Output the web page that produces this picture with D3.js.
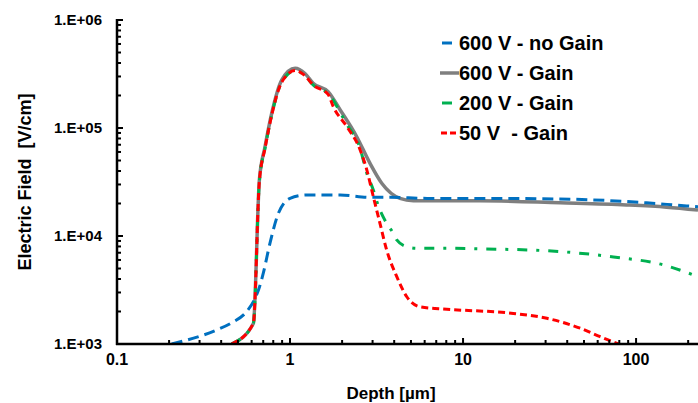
<!DOCTYPE html>
<html>
<head>
<meta charset="utf-8">
<script src="https://cdn.jsdelivr.net/npm/d3@7"></script>
<style>
  body { margin: 0; background: #fff; }
  svg { display: block; font-family: "Liberation Sans", Arial, sans-serif; font-weight: bold; }
</style>
</head>
<body>
<div id="chart"></div>
<script>
// Depth [µm] and field [V/cm]
const depthNoGain600 = [0.207, 0.377, 0.46, 0.562, 0.628, 0.657, 0.70, 0.766, 0.856, 0.93, 1.0, 1.25, 1.95, 2.9, 3.8, 6.2, 12.5, 41.5, 115, 196, 228];
const fieldNoGain600 = [1000, 1350, 1570, 2000, 2650, 3160, 4500, 8600, 16200, 20500, 22300, 24000, 24000, 22800, 22800, 22300, 22300, 21900, 20300, 19000, 18700];

const depthGain600 = [0.46, 0.614, 0.665, 0.717, 0.784, 0.895, 1.07, 1.22, 1.36, 1.66, 1.95, 2.43, 2.9, 3.39, 4.32, 5.16, 12.5, 36.4, 88, 150, 228];
const fieldGain600 = [1000, 1550, 33000, 67000, 137000, 278000, 357000, 320000, 260000, 217000, 147000, 83000, 47000, 30800, 22300, 21200, 21200, 20300, 19400, 18500, 17400];

const depthGain200 = [0.46, 0.614, 0.665, 0.717, 0.784, 0.895, 1.07, 1.22, 1.36, 1.66, 2.13, 2.54, 2.78, 3.03, 3.25, 3.62, 3.95, 4.14, 4.73, 5.4, 8.05, 12.5, 30.5, 74, 144, 228];
const fieldGain200 = [1000, 1550, 32000, 65000, 132000, 265000, 340000, 305000, 250000, 208000, 108000, 65000, 38000, 26700, 18700, 13100, 10600, 9200, 7960, 7700, 7700, 7600, 7300, 6400, 5400, 4200];

const depthGain50 = [0.46, 0.614, 0.665, 0.717, 0.784, 0.895, 1.07, 1.22, 1.36, 1.66, 1.78, 2.13, 2.54, 2.78, 3.03, 3.31, 3.62, 4.14, 4.73, 5.64, 8.05, 19.5, 30.5, 47.5, 62, 79];
const fieldGain50 = [1000, 1550, 32000, 65000, 132000, 265000, 340000, 305000, 250000, 205000, 157000, 103000, 63000, 40800, 23100, 13100, 7400, 4200, 2740, 2210, 2100, 1920, 1730, 1400, 1170, 1000];

const seriesNames = ['600 V - no Gain', '600 V - Gain', '200 V - Gain', '50 V  - Gain'];
const xTickValues = [0.1, 1, 10, 100];
const xTickLabels = ['0.1', '1', '10', '100'];
const yTickValues = [1e3, 1e4, 1e5, 1e6];
const yTickLabels = ['1.E+03', '1.E+04', '1.E+05', '1.E+06'];

const config = {
  width: 698, height: 403,
  margin: {top: 20, right: 0, bottom: 59, left: 117},
  xMax: 228
};

const series = [
  {name: seriesNames[1], x: depthGain600, y: fieldGain600, color: '#7f7f7f', width: 3.5, dash: null, legendDash: null},
  {name: seriesNames[0], x: depthNoGain600, y: fieldNoGain600, color: '#0070c0', width: 3, dash: '11,6', legendDash: null},
  {name: seriesNames[2], x: depthGain200, y: fieldGain200, color: '#00b050', width: 3, dash: '10,9,3,9', legendDash: null},
  {name: seriesNames[3], x: depthGain50, y: fieldGain50, color: '#ff0000', width: 3, dash: '7,4', legendDash: '6,3'}
];

const svg = d3.select('#chart').append('svg')
    .attr('width', config.width)
    .attr('height', config.height);

const innerW = config.width - config.margin.left - config.margin.right;
const innerH = config.height - config.margin.top - config.margin.bottom;

const x = d3.scaleLog()
    .domain([0.1, config.xMax])
    .range([config.margin.left, config.margin.left + innerW]);

const y = d3.scaleLog()
    .domain([1e3, 1e6])
    .range([config.margin.top + innerH, config.margin.top]);

svg.append('defs').append('clipPath').attr('id', 'plot-clip')
  .append('rect')
    .attr('x', config.margin.left)
    .attr('y', config.margin.top - 2)
    .attr('width', innerW)
    .attr('height', innerH + 2);

// minor/major ticks on a log axis
const xMinor = [];
for (let e = -1; e <= 2; e++) {
  for (let m = 1; m <= 9; m++) {
    const v = m * Math.pow(10, e);
    if (v >= 0.1 && v <= config.xMax) xMinor.push(v);
  }
}
const yMinor = [];
for (let e = 3; e <= 6; e++) {
  for (let m = 1; m <= 9; m++) {
    const v = m * Math.pow(10, e);
    if (v <= 1e6) yMinor.push(v);
  }
}

// Lines
const line = d3.line()
    .x(d => x(d[0]))
    .y(d => y(d[1]))
    .curve(d3.curveMonotoneX);

const plot = svg.append('g').attr('clip-path', 'url(#plot-clip)');
series.forEach(s => {
  plot.append('path')
      .datum(s.x.map((v, i) => [v, s.y[i]]))
      .attr('fill', 'none')
      .attr('stroke', s.color)
      .attr('stroke-width', s.width)
      .attr('stroke-dasharray', s.dash)
      .attr('stroke-linejoin', 'round')
      .attr('d', line);
});

// Axes
const yBase = y(1e3);
const xAxisG = svg.append('g').attr('transform', `translate(0,${yBase})`);
xAxisG.selectAll('line.minor').data(xMinor).enter().append('line')
    .attr('x1', d => x(d)).attr('x2', d => x(d))
    .attr('y1', 0)
    .attr('y2', d => xTickValues.includes(d) ? -6 : -4)
    .attr('stroke', '#000').attr('stroke-width', 2);
xAxisG.append('line')
    .attr('x1', x(0.1) - 1).attr('x2', config.width)
    .attr('y1', 0).attr('y2', 0)
    .attr('stroke', '#000').attr('stroke-width', 2.5);
xAxisG.selectAll('text').data(xTickValues).enter().append('text')
    .attr('x', d => x(d))
    .attr('y', 21)
    .attr('text-anchor', 'middle')
    .attr('font-size', 16)
    .attr('fill', '#000')
    .text((d, i) => xTickLabels[i]);

const yAxisG = svg.append('g').attr('transform', `translate(${x(0.1)},0)`);
yAxisG.selectAll('line.minor').data(yMinor).enter().append('line')
    .attr('y1', d => y(d)).attr('y2', d => y(d))
    .attr('x1', 0)
    .attr('x2', d => yTickValues.includes(d) ? 6 : 4)
    .attr('stroke', '#000').attr('stroke-width', 2);
yAxisG.append('line')
    .attr('x1', 0).attr('x2', 0)
    .attr('y1', y(1e6) - 1).attr('y2', yBase + 1)
    .attr('stroke', '#000').attr('stroke-width', 2.5);
yAxisG.selectAll('text').data(yTickValues).enter().append('text')
    .attr('x', -15)
    .attr('y', d => y(d))
    .attr('dy', '0.35em')
    .attr('text-anchor', 'end')
    .attr('font-size', 15)
    .attr('fill', '#000')
    .text((d, i) => yTickLabels[i]);

// Axis titles
svg.append('text')
    .attr('x', 391)
    .attr('y', 399)
    .attr('text-anchor', 'middle')
    .attr('font-size', 17)
    .text('Depth [µm]');

svg.append('text')
    .attr('transform', `translate(31,${(y(1e6) + yBase) / 2}) rotate(-90)`)
    .attr('text-anchor', 'middle')
    .attr('font-size', 18)
    .attr('xml:space', 'preserve')
    .style('white-space', 'pre')
    .text('Electric Field  [V/cm]');

// Legend
const legendOrder = [1, 0, 2, 3];
const legend = svg.append('g').attr('transform', 'translate(440,43)');
legendOrder.forEach((si, i) => {
  const s = series[si];
  const row = legend.append('g').attr('transform', `translate(0,${i * 30})`);
  const grey = s.dash === null;
  row.append('line')
      .attr('x1', grey ? 0 : (s.legendDash ? 1 : 2))
      .attr('x2', grey ? 19 : (s.legendDash ? 18 : 12))
      .attr('y1', 0).attr('y2', 0)
      .attr('stroke', s.color)
      .attr('stroke-width', s.width)
      .attr('stroke-dasharray', s.legendDash);
  row.append('text')
      .attr('x', 19)
      .attr('y', 0)
      .attr('dy', '0.36em')
      .attr('font-size', 20)
      .attr('xml:space', 'preserve')
      .style('white-space', 'pre')
      .text(s.name);
});
</script>
</body>
</html>
